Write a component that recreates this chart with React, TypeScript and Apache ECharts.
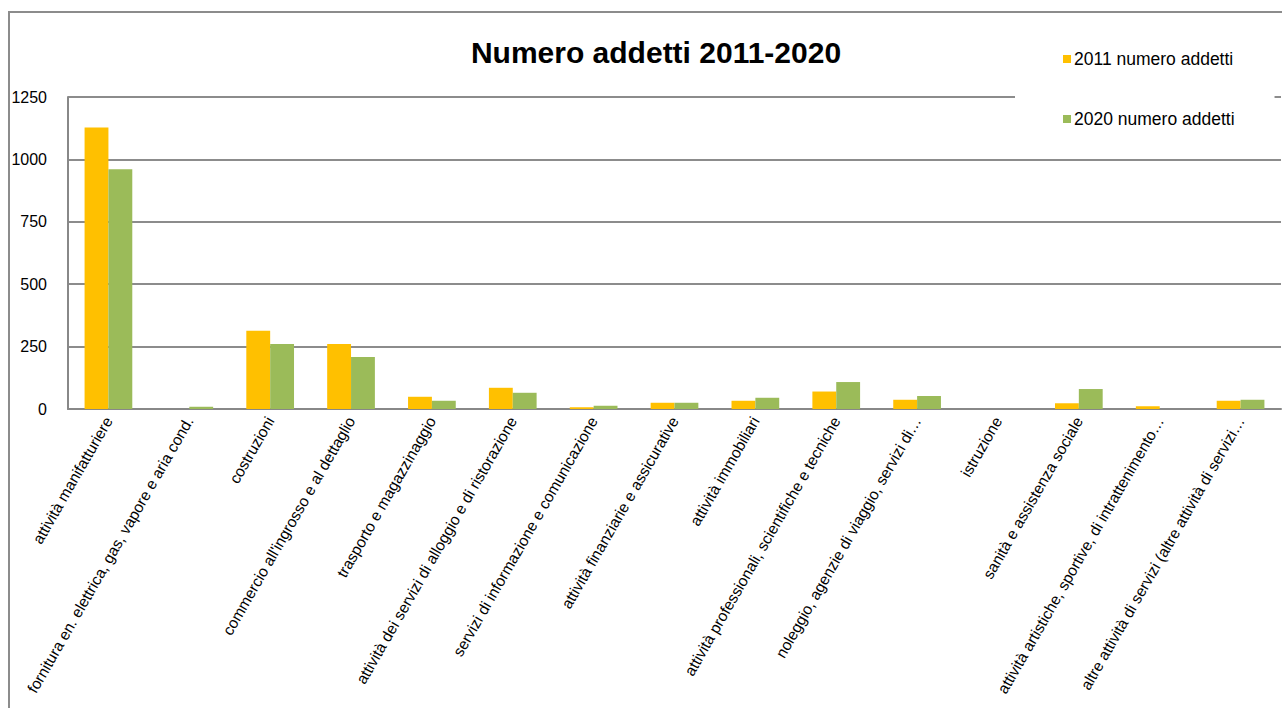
import React, { useEffect, useRef } from "react";
import * as echarts from "echarts";

const categories = [
  "attività manifatturiere",
  "fornitura en. elettrica, gas, vapore e aria cond.",
  "costruzioni",
  "commercio all'ingrosso e al dettaglio",
  "trasporto e magazzinaggio",
  "attività dei servizi di alloggio e di ristorazione",
  "servizi di informazione e comunicazione",
  "attività finanziarie e assicurative",
  "attività immobiliari",
  "attività professionali, scientifiche e tecniche",
  "noleggio, agenzie di viaggio, servizi di…",
  "istruzione",
  "sanità e assistenza sociale",
  "attività artistiche, sportive, di intrattenimento…",
  "altre attività di servizi (altre attività di servizi…",
];

const addetti2011 = [1128, 0, 314, 260, 49, 85, 7, 25, 33, 70, 37, 0, 23, 11, 33];
const addetti2020 = [961, 9, 260, 208, 33, 65, 13, 25, 45, 108, 52, 0, 80, 0, 37];

const yTicks = [0, 250, 500, 750, 1000, 1250];

const FONT = "'Liberation Sans', Arial, sans-serif";

export default function App() {
  const ref = useRef<HTMLDivElement>(null);
  useEffect(() => {
    if (!ref.current) return;
    const chart = echarts.init(ref.current, undefined, { renderer: "svg" });
    chart.setOption({
      animation: false,
      backgroundColor: "#fff",
      title: {
        text: "Numero addetti 2011-2020",
        left: 651,
        top: 32,
        textAlign: "center",
        textStyle: { fontFamily: FONT, fontSize: 30, fontWeight: "bold", color: "#000" },
      },
      legend: {
        orient: "vertical",
        left: 1015,
        top: 36,
        padding: [14, 40, 10, 48],
        itemGap: 42,
        itemWidth: 8,
        itemHeight: 8,
        icon: "rect",
        backgroundColor: "#fff",
        textStyle: { fontFamily: FONT, fontSize: 17.5, color: "#000", padding: [0, 0, 0, -2] },
        data: ["2011 numero addetti", "2020 numero addetti"],
      },
      graphic: [
        {
          type: "rect",
          shape: { x: 9, y: 12, width: 1400, height: 800 },
          style: { fill: "none", stroke: "#8c8c8c", lineWidth: 2 },
          silent: true,
          z: 100,
        },
      ],
      grid: { left: 68, right: 1, top: 97, bottom: 299, containLabel: false },
      xAxis: {
        type: "category",
        data: categories,
        axisLine: { lineStyle: { color: "#888", width: 2 } },
        axisTick: { show: false },
        axisLabel: {
          interval: 0,
          rotate: 60,
          margin: 9,
          fontFamily: FONT,
          fontSize: 15.5,
          color: "#000",
        },
      },
      yAxis: {
        type: "value",
        min: yTicks[0],
        max: yTicks[yTicks.length - 1],
        interval: yTicks[1] - yTicks[0],
        axisLine: { show: true, lineStyle: { color: "#888", width: 2 } },
        axisTick: { show: false },
        splitLine: { lineStyle: { color: "#8c8c8c", width: 2 } },
        axisLabel: {
          fontFamily: FONT,
          fontSize: 16,
          color: "#000",
          margin: 21,
          formatter: (v: number) => String(v),
        },
      },
      series: [
        {
          name: "2011 numero addetti",
          type: "bar",
          data: addetti2011,
          itemStyle: { color: "#FFC000" },
          barGap: "0%",
          barCategoryGap: "41%",
        },
        {
          name: "2020 numero addetti",
          type: "bar",
          data: addetti2020,
          itemStyle: { color: "#9BBB59" },
          barGap: "0%",
          barCategoryGap: "41%",
        },
      ],
    });
    return () => chart.dispose();
  }, []);
  return (
    <div
      ref={ref}
      style={{ position: "fixed", left: 0, top: 0, width: 1282, height: 708 }}
    />
  );
}
